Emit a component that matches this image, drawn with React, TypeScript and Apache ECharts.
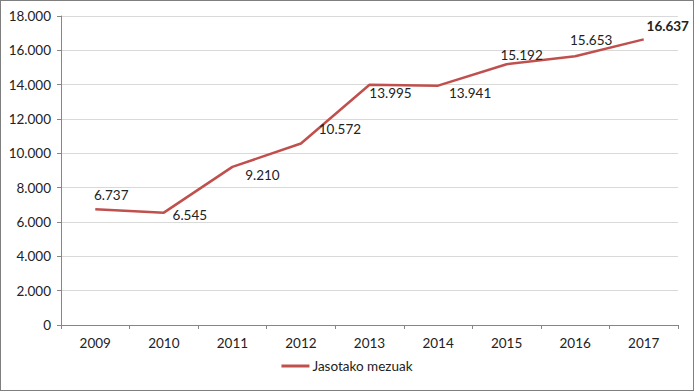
import React, { useEffect, useRef } from "react";
import * as echarts from "echarts";

const years = ["2009", "2010", "2011", "2012", "2013", "2014", "2015", "2016", "2017"];
const values = [6737, 6545, 9210, 10572, 13995, 13941, 15192, 15653, 16637];
const labelOffsets: [number, number][] = [
  [16, -14],
  [26, 2],
  [30, 8],
  [39, -15],
  [21, 8],
  [32, 7],
  [15, -9],
  [16, -16],
  [24, -13],
];
const seriesName = "Jasotako mezuak";

const fmt = (v: number) => String(v).replace(/\B(?=(\d{3})+(?!\d))/g, ".");

export default function App() {
  const ref = useRef<HTMLDivElement>(null);
  useEffect(() => {
    if (!ref.current) return;
    const chart = echarts.init(ref.current, null, { renderer: "svg" });
    const font = "Lato, 'Open Sans', sans-serif";
    chart.setOption({
      animation: false,
      textStyle: { fontFamily: font },
      grid: { left: 61, right: 16, top: 16, bottom: 66, containLabel: false },
      legend: {
        bottom: 13,
        left: "center",
        itemWidth: 28,
        itemHeight: 3,
        itemGap: 4,
        icon: "rect",
        itemStyle: { color: "#c0504d", opacity: 1 },
        textStyle: { fontSize: 13.5, color: "#222", fontFamily: font, padding: [0, 0, 0, -2] },
        data: [seriesName],
      },
      xAxis: {
        type: "category",
        data: years,
        boundaryGap: true,
        axisLine: { lineStyle: { color: "#868686", width: 1 } },
        axisTick: { show: true, alignWithLabel: false, length: 4, lineStyle: { color: "#868686" } },
        axisLabel: { fontSize: 13.5, color: "#222", margin: 11, fontFamily: font },
      },
      yAxis: {
        type: "value",
        min: 0,
        max: 18000,
        interval: 2000,
        axisLine: { show: true, lineStyle: { color: "#868686", width: 1 } },
        axisTick: { show: true, length: 4, lineStyle: { color: "#868686" } },
        axisLabel: { fontSize: 13.5, color: "#222", margin: 10, fontFamily: font, formatter: (v: number) => fmt(v) },
        splitLine: { lineStyle: { color: "#d9d9d9", width: 1 } },
      },
      series: [
        {
          name: seriesName,
          type: "line",
          data: values.map((v, i) => ({
            value: v,
            label: {
              show: true,
              position: "inside",
              offset: labelOffsets[i],
              fontSize: 13.5,
              color: "#222",
              fontFamily: font,
              fontWeight: i === values.length - 1 ? "bold" : "normal",
              formatter: () => fmt(v),
            },
          })),
          symbol: "circle",
          symbolSize: 0.01,
          showSymbol: true,
          itemStyle: { color: "#c0504d" },
          lineStyle: { color: "#c0504d", width: 2.5 },
          color: "#c0504d",
        },
      ],
    });
    return () => chart.dispose();
  }, []);
  return (
    <div
      style={{
        position: "fixed",
        left: 0,
        top: 0,
        width: 694,
        height: 391,
        boxSizing: "border-box",
        border: "1px solid #7f7f7f",
        background: "#fff",
      }}
    >
      <div ref={ref} style={{ position: "absolute", left: -1, top: -1, width: 694, height: 391 }} />
    </div>
  );
}
